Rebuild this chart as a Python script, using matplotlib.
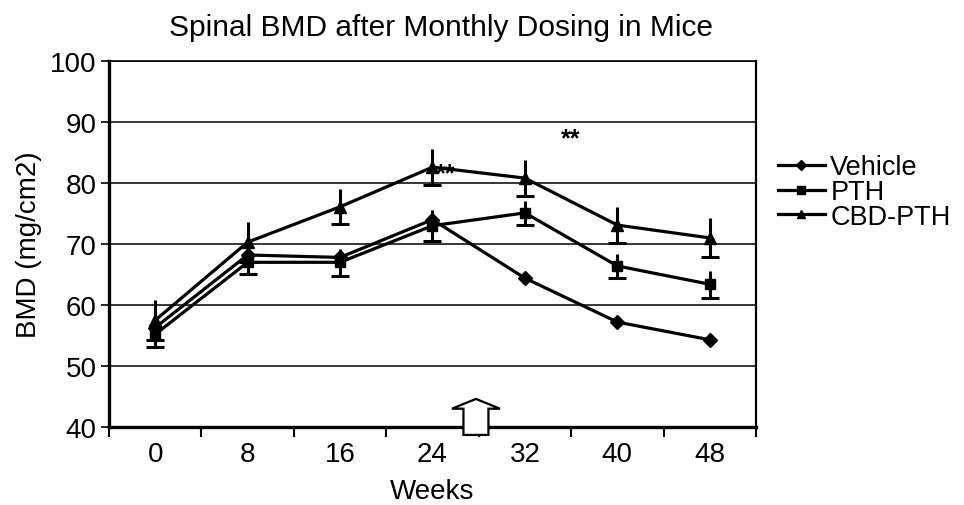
import matplotlib
matplotlib.use("Agg")
import matplotlib.pyplot as plt
from matplotlib.patches import Polygon
import numpy as np

plt.rcParams['font.family'] = ['Liberation Sans', 'DejaVu Sans']

weeks = ["0", "8", "16", "24", "32", "40", "48"]
vehicle = [56.3, 68.2, 67.8, 74.0, 64.4, 57.2, 54.3]
vehicle_err = [0, 0, 0, 0, 0, 0, 0]
pth = [55.2, 67.0, 67.0, 73.0, 75.1, 66.4, 63.4]
pth_err = [2.1, 1.9, 2.2, 2.5, 2.0, 2.0, 2.2]
cbd_pth = [57.5, 70.3, 76.1, 82.6, 80.8, 73.1, 71.0]
cbd_pth_err = [3.3, 3.3, 2.9, 3.0, 3.0, 3.0, 3.2]
yticks = [40, 50, 60, 70, 80, 90, 100]

W, H = 964, 506
fig = plt.figure(figsize=(W / 100, H / 100), dpi=100)
ax = fig.add_axes([109 / W, 1 - 428 / H, (756 - 109) / W, (428 - 62) / H])

x = np.arange(len(weeks))
series = [
    ("Vehicle", vehicle, vehicle_err, "D", 7.5),
    ("PTH", pth, pth_err, "s", 7.5),
    ("CBD-PTH", cbd_pth, cbd_pth_err, "^", 9),
]
for name, vals, errs, mk, ms in series:
    v = np.array(vals)
    e = np.array(errs, dtype=float)
    has = e > 0
    if has.any():
        ax.errorbar(x[has], v[has], yerr=e[has], fmt='none', ecolor='black',
                    elinewidth=2.2, capsize=0, zorder=3)
        ax.plot(x[has], (v - e)[has], linestyle='none', marker='_', markersize=13,
                markeredgewidth=2.2, color='black', zorder=3)
    ax.plot(x, v, color='black', linewidth=2.3, marker=mk, markersize=ms, label=name, zorder=4)

ax.set_xlim(-0.5, len(weeks) - 0.5)
ax.set_ylim(40, 100)
ax.set_yticks(yticks)
ax.set_yticklabels([str(t) for t in yticks])
ax.set_xticks(x)
ax.set_xticklabels(weeks)
ax.set_xticks(np.arange(-0.5, len(weeks), 1.0), minor=True)
ax.tick_params(axis='x', which='major', length=0, pad=10, labelsize=20)
ax.tick_params(axis='x', which='minor', length=7, width=1.5, direction='out')
ax.tick_params(axis='y', which='major', length=6, width=1.2, direction='out', labelsize=20, pad=3)

ax.yaxis.grid(True, color='black', linewidth=1.1)
ax.set_axisbelow(True)
ax.spines['left'].set_linewidth(2.4)
ax.spines['bottom'].set_linewidth(2.4)
ax.spines['top'].set_linewidth(1.2)
ax.spines['right'].set_linewidth(1.6)

ax.set_xlabel("Weeks", fontsize=20, labelpad=8)
ax.set_ylabel("BMD (mg/cm2)", fontsize=20, labelpad=6)
fig.text(441 / W, 1 - 28 / H, "Spinal BMD after Monthly Dosing in Mice",
         ha='center', va='center', fontsize=21.5)

ax.text(3.14, 81.6, "**", fontsize=18, fontweight='bold', ha='center', va='center', zorder=5)
ax.text(4.49, 87.3, "**", fontsize=18, fontweight='bold', ha='center', va='center', zorder=5)

# hollow up-arrow on the x axis
ax_c = 3.47
arrow = Polygon([[ax_c - 0.135, 38.7], [ax_c + 0.135, 38.7], [ax_c + 0.135, 43.0],
                 [ax_c + 0.26, 43.0], [ax_c, 44.6], [ax_c - 0.26, 43.0],
                 [ax_c - 0.135, 43.0]], closed=True, facecolor='white',
                edgecolor='black', linewidth=1.6, clip_on=False, zorder=6)
ax.add_patch(arrow)

fig.legend(loc='center left', bbox_to_anchor=(764 / W, 1 - 193 / H), frameon=False,
           fontsize=19.5, handlelength=1.75, handletextpad=0.2, labelspacing=-0.05,
           borderpad=0, markerscale=0.7)

fig.savefig("out.png", dpi=100)
